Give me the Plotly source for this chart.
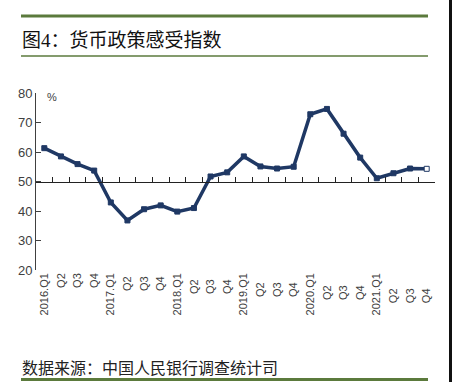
import plotly.graph_objects as go

quarters = ["2016.Q1", "Q2", "Q3", "Q4",
            "2017.Q1", "Q2 ", "Q3 ", "Q4 ",
            "2018.Q1", "Q2  ", "Q3  ", "Q4  ",
            "2019.Q1", "Q2   ", "Q3   ", "Q4   ",
            "2020.Q1", "Q2    ", "Q3    ", "Q4    ",
            "2021.Q1", "Q2     ", "Q3     ", "Q4     "]
index_values = [61.3, 58.5, 55.9, 53.7,
                42.9, 36.8, 40.6, 41.9,
                39.8, 41.0, 51.7, 53.1,
                58.5, 55.1, 54.4, 55.0,
                72.8, 74.6, 66.2, 58.1,
                51.1, 52.8, 54.4, 54.3]
y_ticks = [20, 30, 40, 50, 60, 70, 80]

W, H = 452, 382
L, R, T, B = 36, 435, 93, 270
NAVY = "#1f3864"
GREEN = "#5b7a3c"


def px(x):
    return (x - L) / (R - L)


def py(y):
    return (B - y) / (B - T)


n = len(quarters)
fill = [NAVY] * (n - 1) + ["white"]

fig = go.Figure()
fig.add_trace(go.Scatter(
    x=quarters, y=index_values, mode="lines+markers",
    line=dict(color=NAVY, width=3.5),
    marker=dict(symbol="square", size=5, color=fill, line=dict(color=NAVY, width=1)),
    hoverinfo="x+y", showlegend=False))

fig.update_layout(
    width=W, height=H,
    margin=dict(l=L, r=W - R, t=T, b=H - B),
    paper_bgcolor="white", plot_bgcolor="white",
    font=dict(family="Liberation Sans, Arial, sans-serif", color="#404040", size=12),
    xaxis=dict(type="category", categoryorder="array", categoryarray=quarters,
               range=[-0.5, n - 0.5], showline=False, showgrid=False, zeroline=False,
               ticks="", tickangle=-90, tickfont=dict(size=11, color="#404040")),
    xaxis2=dict(overlaying="x", anchor="free", position=0.5, side="bottom",
                range=[-0.5, n - 0.5], tickmode="array",
                tickvals=[i - 0.5 for i in range(n + 1)], showticklabels=False,
                showline=True, linecolor="#222222", linewidth=1,
                ticks="inside", ticklen=5, tickcolor="#222222",
                showgrid=False, zeroline=False),
    yaxis=dict(range=[20, 80], tickvals=y_ticks, showline=True, linecolor="#404040",
               linewidth=1, ticks="inside", ticklen=5, tickcolor="#404040",
               showgrid=False, zeroline=False, tickfont=dict(size=13, color="#404040")),
)

# invisible trace so the 50-line axis is drawn
fig.add_trace(go.Scatter(x=[0], y=[50], xaxis="x2", mode="markers",
                         marker=dict(opacity=0), hoverinfo="skip", showlegend=False))

shapes = [
    dict(type="line", xref="paper", yref="paper", x0=px(21), x1=px(428), y0=py(16), y1=py(16),
         line=dict(color=GREEN, width=3)),
    dict(type="line", xref="paper", yref="paper", x0=px(21), x1=px(428), y0=py(56), y1=py(56),
         line=dict(color=GREEN, width=1.3)),
    dict(type="line", xref="paper", yref="paper", x0=px(21), x1=px(428), y0=py(379.5), y1=py(379.5),
         line=dict(color=GREEN, width=3)),
    dict(type="rect", xref="paper", yref="paper", x0=px(449), x1=px(453), y0=py(0), y1=py(383),
         line=dict(width=0), fillcolor="#111111"),
]
fig.update_layout(shapes=shapes)

fig.add_annotation(xref="paper", yref="paper", x=px(20), y=py(40), xanchor="left", yanchor="middle",
                   text="图4：货币政策感受指数", showarrow=False,
                   font=dict(family="Liberation Serif, Noto Sans CJK SC", size=19, color="#111111"))
fig.add_annotation(xref="paper", yref="paper", x=px(20), y=py(367), xanchor="left", yanchor="middle",
                   text="数据来源：中国人民银行调查统计司", showarrow=False,
                   font=dict(family="Noto Sans CJK SC", size=16, color="#222222"))
fig.add_annotation(xref="paper", yref="paper", x=px(45), y=py(97), xanchor="left", yanchor="middle",
                   text="%", showarrow=False, font=dict(size=11, color="#404040"))

fig.write_html("out.html", config={"displayModeBar": False},
               post_script="document.body.style.margin='0px';")
